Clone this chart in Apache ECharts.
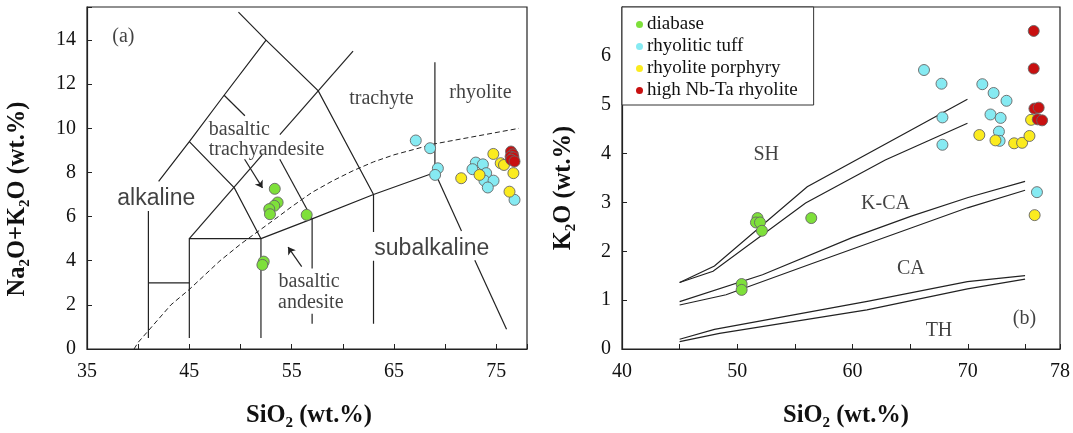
<!DOCTYPE html>
<html><head><meta charset="utf-8">
<script src="https://cdn.jsdelivr.net/npm/echarts@6/dist/echarts.min.js"></script>
<style>html,body{margin:0;padding:0;background:#fff}#c{width:1073px;height:433px}</style>
</head><body><div id="c"></div>
<script>
// ---------- Panel (a): TAS diagram ----------
const tasDiabase = [[53.35,7.26],[53.63,6.64],[53.3,6.49],[52.81,6.34],[52.88,6.11],[56.47,6.08],[52.27,3.96],[52.14,3.81]];
const tasTuff = [[67.13,9.45],[68.53,9.1],[69.29,8.19],[69.02,7.89],[73.0,8.45],[73.69,8.37],[72.67,8.15],[74.01,7.97],[73.84,7.63],[74.73,7.63],[74.17,7.32],[76.78,6.76]];
const tasPorphyry = [[74.71,8.84],[75.43,8.42],[75.75,8.34],[71.57,7.74],[73.36,7.89],[76.67,7.97],[76.29,7.13]];
const tasHighNbTa = [[76.44,8.95],[76.62,8.82],[76.4,8.72],[76.68,8.68],[76.45,8.58],[76.78,8.5]];
const tasXLabels = [35,45,55,65,75];
const tasYLabels = [0,2,4,6,8,10,12,14];
// field boundaries (solid), drawn with gaps where labels sit
const tasBoundaries = [
  [[41,0.5],[41,6.25]],
  [[41,3],[45,3]],
  [[45,0.5],[45,5],[52,5],[52,0.5]],
  [[52,5],[57,5.9],[63,7],[69,8]],
  [[57,5.9],[57,3.65]], [[57,1.6],[57,1.15]],
  [[63,7],[63,5.3]], [[63,4.0],[63,1.15]],
  [[69,8],[69,13]],
  [[69,8],[71.6,5.35]], [[72.9,4.02],[76.0,0.9]],
  [[42.0,7.6],[45,9.4],[48.4,11.5],[52.5,14]],
  [[49.8,15.27],[52.5,14],[57.6,11.7],[63,7]],
  [[45,9.4],[49.4,7.3],[52,5]],
  [[48.4,11.5],[50.43,10.57]], [[53.84,8.6],[57,5.9]],
  [[45,5],[52.1,8.79]], [[53.85,9.72],[61,13.5]]
];
// alkaline / subalkaline divide (dashed)
const tasDivide = [[39.6,0],[40,0.3],[43.2,2],[45,2.7],[48,4],[50,4.75],[53.7,6],[55,6.45],[57,7.1],[59,7.62],[61,8.08],[63,8.48],[65,8.8],[69,9.3],[77.2,10.0]];
const tasArrows = [[[50.4,8.6],[52.15,7.3]], [[55.98,3.73],[54.65,4.62]]];

// ---------- Panel (b): K2O vs SiO2 ----------
const kDiabase = [[51.76,2.68],[51.62,2.59],[51.97,2.59],[52.14,2.42],[56.42,2.68],[50.38,1.33],[50.38,1.21]];
const kTuff = [[66.2,5.71],[67.72,5.43],[67.8,4.74],[67.8,4.18],[71.26,5.42],[72.24,5.24],[73.36,5.08],[71.97,4.8],[72.85,4.73],[72.7,4.45],[72.76,4.26],[76.0,3.21]];
const kPorphyry = [[71.0,4.38],[72.4,4.27],[74.02,4.21],[74.71,4.22],[75.35,4.36],[75.49,4.69],[75.8,2.74]];
const kHighNbTa = [[75.72,6.51],[75.72,5.74],[75.78,4.92],[76.15,4.94],[76.07,4.7],[76.45,4.68]];
const kXLabels = [40,50,60,70,78];
const kYLabels = [0,1,2,3,4,5,6];
const kBoundaries = [
  [[45,1.36],[48.02,1.70],[56.07,3.32],[69.97,5.11]],
  [[45,1.36],[47.9,1.59],[55.93,2.99],[62.84,3.87],[69.97,4.62]],
  [[45,0.97],[52.19,1.52],[59.96,2.28],[65.1,2.72],[70.03,3.1],[74.97,3.43]],
  [[45,0.9],[49.03,1.11],[56.5,1.75],[69.97,2.89],[74.97,3.25]],
  [[45,0.2],[48.02,0.4],[61.4,0.98],[69.97,1.38],[74.97,1.5]],
  [[45,0.15],[48.46,0.32],[61.25,0.8],[69.97,1.23],[74.97,1.43]]
];

const seriesNames = ['diabase','rhyolitic tuff','rhyolite porphyry','high Nb-Ta rhyolite'];
const colors = ['#7EE03A','#86EAF2','#FBEB1E','#C81010'];

const SERIF = '"Liberation Serif","Times New Roman",serif';
const SANS = '"Liberation Sans",Arial,sans-serif';

const chart = echarts.init(document.getElementById('c'), null, {renderer:'canvas'});

function scatter(name, data, idx, color){
  return {type:'scatter', name, data, xAxisIndex:idx, yAxisIndex:idx, symbol:'circle', symbolSize:11,
    itemStyle:{color, borderColor:'#666', borderWidth:0.9, opacity:1}, z:5, silent:true};
}
function bounds(arr, idx, style){
  return {type:'lines', coordinateSystem:'cartesian2d', xAxisIndex:idx, yAxisIndex:idx, polyline:true,
    data: arr.map(c=>({coords:c})), lineStyle: Object.assign({color:'#222', width:1.2, opacity:1}, style||{}),
    symbol:['none','none'], silent:true, z:2};
}
function labels(items, idx){
  return {type:'scatter', xAxisIndex:idx, yAxisIndex:idx, symbolSize:0, silent:true, z:4,
    data: items.map(it=>({value:[it.x,it.y], name:it.t, label:Object.assign({show:true, position:'inside', formatter:'{b}',
      color:'#111', fontFamily:SERIF, fontSize:20, align:'center', verticalAlign:'middle'}, it.s||{})}))};
}

const tasText = [
  {t:'(a)', x:38.56, y:14.13},
  {t:'trachyte', x:63.77, y:11.33},
  {t:'rhyolite', x:73.45, y:11.6},
  {t:'basaltic', x:46.9, y:9.95, s:{align:'left'}},
  {t:'trachyandesite', x:46.9, y:9.02, s:{align:'left'}},
  {t:'alkaline', x:41.77, y:6.8, s:{fontFamily:SANS, fontSize:23}},
  {t:'subalkaline', x:68.7, y:4.53, s:{fontFamily:SANS, fontSize:23}},
  {t:'basaltic', x:56.71, y:3.06},
  {t:'andesite', x:56.87, y:2.1}
];
const kText = [
  {t:'SH', x:52.51, y:3.98},
  {t:'K-CA', x:62.86, y:2.97},
  {t:'CA', x:65.06, y:1.64},
  {t:'TH', x:67.5, y:0.37},
  {t:'(b)', x:74.92, y:0.62}
];

function xAxis(idx, min, max, shown){
  return {type:'value', gridIndex:idx, min, max, interval:5,
    axisLine:{show:true, lineStyle:{color:'#222', width:1.2}},
    axisTick:{show:true, inside:true, length:5, lineStyle:{color:'#222'}},
    splitLine:{show:false},
    axisLabel:{show:true, margin:13, color:'#111', fontFamily:SERIF, fontSize:20,
      formatter: v => shown.indexOf(v) >= 0 ? String(v) : ''}};
}
function yAxis(idx, min, max, interval, shown){
  return {type:'value', gridIndex:idx, min, max, interval,
    axisLine:{show:true, lineStyle:{color:'#222', width:1.2}},
    axisTick:{show:true, inside:true, length:5, lineStyle:{color:'#222'}},
    splitLine:{show:false},
    axisLabel:{show:true, margin:11, color:'#111', fontFamily:SERIF, fontSize:20,
      formatter: v => shown.indexOf(v) >= 0 ? String(v) : ''}};
}

const titleRich = {
  b:{fontFamily:SERIF, fontWeight:'bold', fontSize:24.5, lineHeight:30, fill:'#111'},
  s:{fontFamily:SERIF, fontWeight:'bold', fontSize:15, lineHeight:15, verticalAlign:'bottom', fill:'#111'}
};
function title(text, x, y, rot){
  return {type:'text', x, y, rotation:rot||0, silent:true, z:10,
    style:{text, rich:titleRich, align:'center', verticalAlign:'middle', fill:'#111',
      font:'bold 24px '+SERIF}};
}

const option = {
  animation:false,
  backgroundColor:'#fff',
  grid:[
    {left:87, top:7, width:440, height:342, show:true, borderColor:'#222', borderWidth:1.2, backgroundColor:'transparent'},
    {left:622, top:7, width:440, height:342, show:true, borderColor:'#222', borderWidth:1.2, backgroundColor:'transparent'}
  ],
  xAxis:[ xAxis(0, 35, 78, tasXLabels), xAxis(1, 40, 78, kXLabels) ],
  yAxis:[ yAxis(0, 0, 15.5, 2, tasYLabels), yAxis(1, 0, 7, 1, kYLabels) ],
  legend:{
    data: seriesNames, orient:'vertical', left:622, top:7, padding:[8,16,5,14],
    itemWidth:7, itemHeight:7, itemGap:3, icon:'circle', selectedMode:false,
    borderColor:'#333', borderWidth:1, backgroundColor:'#fff',
    itemStyle:{borderWidth:0},
    textStyle:{fontFamily:SERIF, fontSize:19, color:'#111', padding:[0,0,0,-1]}
  },
  graphic: [
    title('{b|Na}{s|2}{b|O+K}{s|2}{b|O (wt.%)}', 17.5, 199, Math.PI/2),
    title('{b|K}{s|2}{b|O (wt.%)}', 564, 188, Math.PI/2),
    title('{b|SiO}{s|2}{b| (wt.%)}', 309, 416, 0),
    title('{b|SiO}{s|2}{b| (wt.%)}', 846, 416, 0)
  ],
  series:[
    bounds(tasBoundaries, 0),
    bounds([tasDivide], 0, {type:[5,3], width:1}),
    {type:'lines', coordinateSystem:'cartesian2d', xAxisIndex:0, yAxisIndex:0,
      data: tasArrows.map(c=>({coords:c})), symbol:['none','arrow'], symbolSize:7,
      lineStyle:{color:'#222', width:1.2, opacity:1}, silent:true, z:3},
    labels(tasText, 0),
    scatter(seriesNames[0], tasDiabase, 0, colors[0]),
    scatter(seriesNames[1], tasTuff, 0, colors[1]),
    scatter(seriesNames[2], tasPorphyry, 0, colors[2]),
    scatter(seriesNames[3], tasHighNbTa, 0, colors[3]),
    bounds(kBoundaries, 1),
    labels(kText, 1),
    scatter(seriesNames[0], kDiabase, 1, colors[0]),
    scatter(seriesNames[1], kTuff, 1, colors[1]),
    scatter(seriesNames[2], kPorphyry, 1, colors[2]),
    scatter(seriesNames[3], kHighNbTa, 1, colors[3])
  ]
};
chart.setOption(option);
</script>
</body></html>
